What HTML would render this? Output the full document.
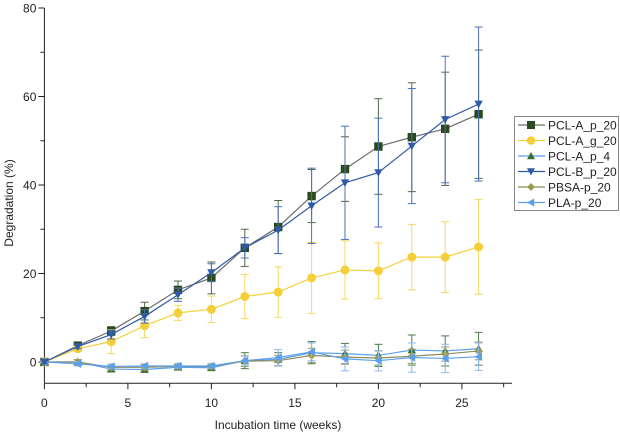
<!DOCTYPE html>
<html><head><meta charset="utf-8"><style>
body{margin:0;background:#fff;}
svg{font-family:"Liberation Sans",sans-serif;}
</style></head><body>
<svg id="chart" width="620" height="433" xmlns="http://www.w3.org/2000/svg"></svg>
<script>
const weeks=[0,2,4,6,8,10,12,14,16,18,20,22,24,26];
const seriesNames=["PCL-A_p_20","PCL-A_g_20","PCL-A_p_4","PCL-B_p_20","PBSA-p_20","PLA-p_20"];
const pclAp20=[0,3.7,7,11.5,16.3,19,25.8,30.5,37.5,43.6,48.7,50.8,52.7,56];
const pclAp20Err=[0.3,0.6,1,2,2,3.6,4.2,6,6,7.3,10.8,12.3,12.8,14.5];
const pclAg20=[0,3,4.6,8.2,11.1,11.9,14.8,15.8,19,20.8,20.6,23.7,23.7,26];
const pclAg20Err=[0.3,0.6,2.7,2.7,1.7,3,5,5.7,8,6.6,6.3,7.4,8,10.7];
const pclAp4=[0,0,-1.6,-1.7,-1.2,-1.3,0.3,0.6,2.1,1.9,1.5,2.7,2.5,3];
const pclAp4Err=[0.3,0.5,0.6,0.6,0.6,0.6,1.8,1.5,2.5,2.3,2.5,3.4,3.4,3.7];
const pclBp20=[0,3.5,6.2,10.3,15.2,20.2,25.8,29.8,35.3,40.5,42.8,48.8,54.8,58.3];
const pclBp20Err=[0.3,0.5,1,1.5,1.5,2,2.3,5.3,8.5,12.8,12.3,13,14.3,17.4];
const pbsa=[0,0,-1.2,-1.2,-1,-1,0.2,0.3,1.5,1.1,0.9,1.3,1.8,2.5];
const pbsaErr=[0.3,0.5,0.6,0.6,0.6,0.6,1.2,1.2,1.6,1.6,1.6,1.6,1.6,2];
const pla=[0,-0.4,-1,-0.9,-0.9,-0.9,0.3,1,2.3,0.7,0.3,1,0.8,1.2];
const plaErr=[0.3,0.5,0.5,0.5,0.5,0.5,1,1.8,2,2.7,2.3,3.3,3.2,3.1];
const xTicks=[0,5,10,15,20,25];
const yTicks=[0,20,40,60,80];

const svg=document.getElementById('chart');
const NS="http://www.w3.org/2000/svg";
const X0=44.4,X1=512,Y0=362,YT=8;
const xs=v=>X0+(v/28)*(X1-X0);
const ys=v=>Y0-(v/80)*(Y0-YT);
function mk(tag,attrs,parent){const e=document.createElementNS(NS,tag);for(const k in attrs)e.setAttribute(k,attrs[k]);(parent||svg).appendChild(e);return e;}

const axes=mk('g',{});


const YB=ys(-4.8);
mk('line',{x1:X0,y1:YB,x2:X0,y2:YT,stroke:'#222','stroke-width':1},axes);
mk('line',{x1:X0,y1:YB,x2:X1,y2:YB,stroke:'#222','stroke-width':1},axes);
for(let v=0;v<=27.5;v+=2.5){const big=v%5===0;mk('line',{x1:xs(v),x2:xs(v),y1:YB,y2:YB+(big?6:4),stroke:'#222'},axes);}
for(let v=0;v<=80;v+=10){const big=v%20===0;mk('line',{x1:X0,x2:X0-(big?6:4),y1:ys(v),y2:ys(v),stroke:'#222'},axes);}
xTicks.forEach(t=>{const e=mk('text',{x:xs(t),y:407,'text-anchor':'middle','font-size':12,fill:'#222'},axes);e.textContent=t;

});
yTicks.forEach(t=>{const e=mk('text',{x:X0-8,y:ys(t)+4.5,'text-anchor':'end','font-size':12,fill:'#222'},axes);e.textContent=t;

});
const xt=mk('text',{x:278,y:429,'text-anchor':'middle','font-size':12,fill:'#222'});xt.textContent='Incubation time (weeks)';


const yt=mk('text',{x:0,y:0,'text-anchor':'middle','font-size':12,fill:'#222',transform:'translate(13,203) rotate(-90)'});yt.textContent='Degradation (%)';



function marker(shape,x,y,fill,parent,s){s=s||4.2;
 if(shape==='sq')return mk('rect',{x:x-s,y:y-s,width:2*s,height:2*s,fill:fill},parent);
 if(shape==='ci')return mk('circle',{cx:x,cy:y,r:s+0.3,fill:fill},parent);
 let p;
 if(shape==='up')p=[[x,y-s],[x+s,y+s*0.8],[x-s,y+s*0.8]];
 if(shape==='dn')p=[[x,y+s],[x+s,y-s*0.8],[x-s,y-s*0.8]];
 if(shape==='di')p=[[x,y-s],[x+s,y],[x,y+s],[x-s,y]];
 if(shape==='lt')p=[[x-s,y],[x+s*0.8,y-s],[x+s*0.8,y+s]];
 return mk('polygon',{points:p.map(a=>a.join(',')).join(' '),fill:fill},parent);}

const defs=[
 {vals:pclAp20,err:pclAp20Err,line:'#6b6b6b',fill:'#2b4a1f',ebar:'#4f6b45',shape:'sq',name:'pcl-a-p-20'},
 {vals:pclAg20,err:pclAg20Err,line:'#f5cf3a',fill:'#f5cf3a',ebar:'#f5d860',shape:'ci',name:'pcl-a-g-20'},
 {vals:pclAp4,err:pclAp4Err,line:'#5b9ff0',fill:'#3b6e35',ebar:'#4f7a45',shape:'up',name:'pcl-a-p-4'},
 {vals:pbsa,err:pbsaErr,line:'#8c8c5a',fill:'#9a9a50',ebar:'#9a9a6a',shape:'di',name:'pbsa-p-20'},
 {vals:pla,err:plaErr,line:'#5b9ff0',fill:'#5b9ff0',ebar:'#8ab8f0',shape:'lt',name:'pla-p-20'},
 {vals:pclBp20,err:pclBp20Err,line:'#2f5aa8',fill:'#2f5aa8',ebar:'#4a72b8',shape:'dn',name:'pcl-b-p-20'}
];
defs.forEach(d=>{
 const g=mk('g',{});
 
 
 weeks.forEach((w,i)=>{const x=xs(w),t=ys(d.vals[i]+d.err[i]),b=ys(d.vals[i]-d.err[i]);
  mk('line',{x1:x,x2:x,y1:t,y2:b,stroke:d.ebar,'stroke-width':1},g);
  mk('line',{x1:x-4,x2:x+4,y1:t,y2:t,stroke:d.ebar},g);
  mk('line',{x1:x-4,x2:x+4,y1:b,y2:b,stroke:d.ebar},g);});
 mk('polyline',{points:weeks.map((w,i)=>xs(w)+','+ys(d.vals[i])).join(' '),fill:'none',stroke:d.line,'stroke-width':1.2},g);
 weeks.forEach((w,i)=>{const m=marker(d.shape,xs(w),ys(d.vals[i]),d.fill,g);
  
  });
});

const lg=mk('g',{});


mk('rect',{x:514.5,y:116.5,width:104,height:94,fill:'#fff',stroke:'#888'},lg);
const legOrder=[[0,'sq','#2b4a1f','#6b6b6b'],[1,'ci','#f5cf3a','#f5cf3a'],[2,'up','#3b6e35','#5b9ff0'],[3,'dn','#2f5aa8','#2f5aa8'],[4,'di','#9a9a50','#8c8c5a'],[5,'lt','#5b9ff0','#5b9ff0']];
legOrder.forEach((o,k)=>{const y=125+k*15.5;
 const e=mk('g',{},lg);
 
 
 mk('line',{x1:518,x2:545,y1:y,y2:y,stroke:o[3],'stroke-width':1.2},e);
 marker(o[1],531,y,o[2],e,4);
 const t=mk('text',{x:548,y:y+4.5,'font-size':12,fill:'#222'},e);t.textContent=seriesNames[o[0]];});
</script>
</body></html>
